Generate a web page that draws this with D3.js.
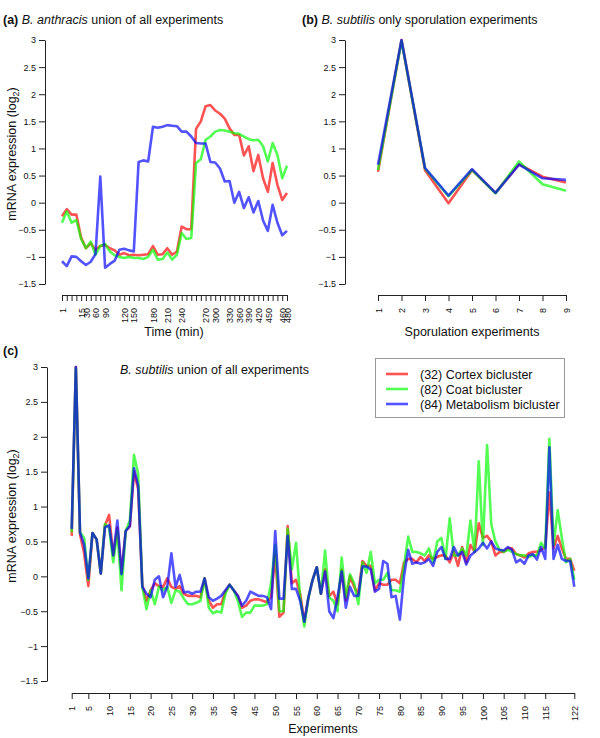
<!DOCTYPE html>
<html><head><meta charset="utf-8">
<script src="https://cdn.jsdelivr.net/npm/d3@7"></script>
<style>
body{margin:0;background:#fff}
svg{display:block}
text{font-family:"Liberation Sans",Arial,Helvetica,sans-serif;fill:#111}
</style>
</head><body>
<svg id="chart" width="600" height="738"></svg>
<script>
// ---------- data ----------
const seriesNames = ["(32) Cortex bicluster", "(82) Coat bicluster", "(84) Metabolism bicluster"];
const seriesColors = ["rgba(255,0,0,0.68)", "rgba(0,255,0,0.68)", "rgba(0,0,255,0.68)"];
const yTickValues = [-1.5, -1, -0.5, 0, 0.5, 1, 1.5, 2, 2.5, 3];

// (a) B. anthracis time course tick labels (one per time point)
const timeLabels = ["1","","","","15","30","","60","","90","","","","120","","150","","","","180","","","210","","","240","","","","","270","","300","","","330","","360","","390","","420","","450","","","460","480"];
const anthracisCortex = [-0.25,-0.12,-0.22,-0.22,-0.65,-0.84,-0.75,-0.87,-0.8,-0.78,-0.84,-0.88,-0.96,-0.93,-0.97,-0.96,-0.97,-0.96,-0.95,-0.8,-0.96,-0.95,-0.84,-0.96,-0.9,-0.44,-0.49,-0.49,1.36,1.5,1.78,1.8,1.7,1.64,1.55,1.37,1.25,1.25,0.87,1.04,0.58,0.88,0.45,0.2,0.73,0.33,0.05,0.18];
const anthracisCoat = [-0.37,-0.16,-0.37,-0.32,-0.67,-0.84,-0.72,-0.96,-0.8,-0.76,-0.9,-0.97,-1.0,-1.02,-1.0,-1.02,-1.02,-1.04,-1.0,-0.87,-1.05,-1.04,-0.92,-1.05,-0.96,-0.56,-0.67,-0.65,0.73,0.8,1.16,1.22,1.31,1.34,1.33,1.31,1.28,1.27,1.22,1.17,1.15,1.16,1.04,0.76,1.1,0.88,0.45,0.68];
const anthracisMetabolism = [-1.08,-1.17,-0.99,-1.0,-1.08,-1.15,-1.09,-0.95,0.48,-1.2,-1.13,-1.07,-0.87,-0.85,-0.88,-0.9,0.75,0.78,0.76,1.4,1.38,1.4,1.43,1.42,1.41,1.31,1.31,1.22,1.1,1.09,1.09,0.75,0.74,0.63,0.39,0.4,0.0,0.2,-0.1,0.1,-0.18,0.03,-0.33,-0.52,-0.04,-0.37,-0.6,-0.52];

// (b) B. subtilis sporulation experiments
const sporulationExperiments = [1,2,3,4,5,6,7,8,9];
const sporCortex = [0.57,3.0,0.6,-0.01,0.6,0.18,0.71,0.48,0.37];
const sporCoat = [0.6,2.98,0.63,0.12,0.6,0.17,0.76,0.34,0.22];
const sporMetabolism = [0.7,3.0,0.64,0.13,0.62,0.18,0.7,0.45,0.42];

// (c) B. subtilis union of all experiments (1..122)
const experimentTicks = [1,5,10,15,20,25,30,35,40,45,50,55,60,65,70,75,80,85,90,95,100,105,110,115,122];
const subtilisCortex = [0.58,3.0,0.6,0.33,-0.14,0.62,0.53,0.04,0.73,0.88,0.3,0.7,0.05,0.65,0.72,1.5,1.25,-0.12,-0.35,-0.2,-0.1,-0.14,-0.15,-0.03,-0.15,-0.18,-0.14,-0.25,-0.28,-0.28,-0.28,-0.3,-0.03,-0.35,-0.45,-0.4,-0.4,-0.22,-0.12,-0.2,-0.28,-0.45,-0.42,-0.35,-0.33,-0.33,-0.35,-0.37,-0.3,0.3,-0.58,-0.52,0.72,-0.1,-0.05,-0.25,-0.65,-0.3,-0.05,0.13,-0.25,0.1,-0.28,-0.22,-0.4,0.1,-0.35,0.0,-0.15,-0.25,0.22,0.15,0.15,-0.2,-0.1,-0.12,-0.12,-0.05,-0.05,-0.1,0.2,0.25,0.25,0.2,0.28,0.22,0.3,0.25,0.28,0.3,0.3,0.2,0.35,0.15,0.42,0.2,0.45,0.35,0.76,0.55,0.58,0.5,0.3,0.35,0.35,0.4,0.4,0.32,0.3,0.27,0.33,0.35,0.35,0.38,0.42,1.2,0.4,0.58,0.4,0.25,0.25,0.08];
const subtilisCoat = [0.63,2.98,0.63,0.55,-0.05,0.62,0.53,0.04,0.75,0.7,0.2,0.65,-0.2,0.65,0.8,1.74,1.47,-0.15,-0.47,-0.2,-0.4,-0.15,-0.2,-0.15,-0.38,-0.2,-0.22,-0.32,-0.4,-0.4,-0.38,-0.35,-0.03,-0.45,-0.53,-0.5,-0.52,-0.25,-0.12,-0.2,-0.35,-0.58,-0.52,-0.52,-0.42,-0.42,-0.42,-0.4,-0.1,0.45,-0.5,-0.5,0.68,0.1,0.48,-0.3,-0.72,-0.3,-0.05,0.13,-0.25,0.37,-0.3,-0.35,-0.5,0.27,-0.3,0.03,-0.1,-0.4,0.2,0.05,0.35,-0.1,-0.05,-0.05,0.05,-0.2,-0.2,-0.22,0.15,0.57,0.35,0.35,0.33,0.3,0.4,0.2,0.5,0.55,0.25,0.83,0.3,0.3,0.4,0.3,0.8,0.35,1.65,0.45,1.88,0.75,0.5,0.38,0.35,0.38,0.35,0.32,0.3,0.3,0.28,0.3,0.3,0.48,0.4,1.97,0.45,0.95,0.55,0.2,0.25,-0.05];
const subtilisMetabolism = [0.68,3.0,0.63,0.45,-0.03,0.62,0.53,0.04,0.7,0.73,0.3,0.8,0.03,0.65,0.72,1.55,1.3,-0.15,-0.25,-0.3,-0.05,0.0,-0.3,-0.15,0.33,-0.15,0.02,-0.23,-0.22,-0.25,-0.22,-0.22,-0.03,-0.3,-0.35,-0.32,-0.28,-0.2,-0.12,-0.2,-0.28,-0.42,-0.35,-0.22,-0.25,-0.28,-0.28,-0.3,-0.47,0.65,-0.32,-0.32,0.58,-0.18,-0.18,-0.35,-0.65,-0.3,-0.05,0.13,-0.25,0.07,-0.5,-0.6,-0.3,0.07,-0.45,-0.15,-0.28,-0.28,0.14,0.14,0.1,-0.22,-0.18,0.22,0.18,-0.3,-0.28,-0.62,0.0,0.38,0.18,0.2,0.18,0.2,0.25,0.15,0.35,0.42,0.25,0.25,0.42,0.3,0.35,0.17,0.3,0.35,0.4,0.48,0.4,0.5,0.4,0.38,0.37,0.42,0.38,0.2,0.24,0.18,0.3,0.32,0.24,0.42,0.25,1.85,0.25,0.45,0.25,0.22,0.22,-0.15];

// ---------- drawing ----------
const svg = d3.select("#chart");
const fmt = d => (d < 0 ? "\u2212" + Math.abs(d) : String(d));

function styleAxis(g) {
  g.selectAll("path.domain").attr("stroke", "#222").attr("stroke-width", 1);
  g.selectAll(".tick line").attr("stroke", "#222").attr("stroke-width", 1);
  g.selectAll("text").style("font-family", '"Liberation Sans",Arial,sans-serif').attr("fill", "#111");
}

function yAxis(x0, y, size) {
  const g = svg.append("g").attr("transform", `translate(${x0},0)`)
    .call(d3.axisLeft(y).tickValues(yTickValues).tickFormat(fmt).tickSize(6).tickSizeOuter(0).tickPadding(3));
  g.selectAll("text").style("font-size", size + "px");
  styleAxis(g);
}

function xAxis(y0, x, values, labelFn, size, off) {
  const g = svg.append("g").attr("transform", `translate(0,${y0})`)
    .call(d3.axisBottom(x).tickValues(values).tickFormat(labelFn).tickSize(6).tickSizeOuter(0));
  g.selectAll("text")
    .attr("transform", "rotate(-90)")
    .attr("x", -off).attr("y", 0).attr("dy", "0.35em")
    .style("text-anchor", "end").style("font-size", size + "px");
  styleAxis(g);
}

function drawLines(x, y, xs, seriesList) {
  seriesList.forEach((vals, k) => {
    const line = d3.line().x((d, i) => x(xs[i])).y(d => y(d));
    svg.append("path").datum(vals)
      .attr("fill", "none").attr("stroke", seriesColors[k])
      .attr("stroke-width", 2.6).attr("stroke-linejoin", "round")
      .attr("d", line);
  });
}

function title(xp, yp, bold, italic, rest) {
  const t = svg.append("text").attr("x", xp).attr("y", yp).style("font-size", "12.5px");
  if (bold) t.append("tspan").style("font-weight", "bold").text(bold + " ");
  t.append("tspan").style("font-style", "italic").text(italic);
  t.append("tspan").text(rest);
}

function yTitle(xp, yp) {
  const t = svg.append("text").attr("transform", `translate(${xp},${yp}) rotate(-90)`)
    .style("text-anchor", "middle").style("font-size", "12.5px");
  t.append("tspan").text("mRNA expression (log");
  t.append("tspan").attr("dy", 3).style("font-size", "9px").text("2");
  t.append("tspan").attr("dy", -3).text(")");
}

const fs = 9;

// ----- panel (a)
const ya = d3.scaleLinear().domain([-1.5, 3]).range([284, 40]);
const xa = d3.scaleLinear().domain([0, timeLabels.length - 1]).range([62, 287]);
const idxA = d3.range(timeLabels.length);
drawLines(xa, ya, idxA, [anthracisCortex, anthracisCoat, anthracisMetabolism]);
yAxis(45, ya, fs);
xAxis(295, xa, idxA, i => timeLabels[i], fs, 13);
title(3, 24, "(a)", "B. anthracis", " union of all experiments");
yTitle(16, 154);
svg.append("text").attr("x", 174).attr("y", 336).style("text-anchor", "middle").style("font-size", "12.5px").text("Time (min)");

// ----- panel (b)
const yb = d3.scaleLinear().domain([-1.5, 3]).range([284, 40]);
const xb = d3.scaleLinear().domain([1, 9]).range([378, 566]);
drawLines(xb, yb, sporulationExperiments, [sporCortex, sporCoat, sporMetabolism]);
yAxis(345, yb, fs);
xAxis(295, xb, sporulationExperiments, d => d, fs, 13);
title(302, 24, "(b)", "B. subtilis", " only sporulation experiments");
svg.append("text").attr("x", 472).attr("y", 336).style("text-anchor", "middle").style("font-size", "12.5px").text("Sporulation experiments");

// ----- panel (c)
const yc = d3.scaleLinear().domain([-1.5, 3]).range([681, 367]);
const xc = d3.scaleLinear().domain([1, 122]).range([71.7, 574.3]);
const expIdx = d3.range(1, 123);
drawLines(xc, yc, expIdx, [subtilisCortex, subtilisCoat, subtilisMetabolism]);
yAxis(47, yc, fs);
xAxis(693, xc, experimentTicks, d => d, fs, 13);
svg.append("text").attr("x", 3).attr("y", 355).style("font-size", "12.5px").style("font-weight", "bold").text("(c)");
title(120, 374, null, "B. subtilis", " union of all experiments");
yTitle(16, 516);
svg.append("text").attr("x", 323).attr("y", 733).style("text-anchor", "middle").style("font-size", "12.5px").text("Experiments");

// legend
const lg = svg.append("g");
lg.append("rect").attr("x", 375.5).attr("y", 358.5).attr("width", 189).attr("height", 59)
  .attr("fill", "#fff").attr("stroke", "#999").attr("stroke-width", 1);
seriesNames.forEach((name, k) => {
  const cy = 374 + k * 15;
  lg.append("line").attr("x1", 386).attr("x2", 408).attr("y1", cy).attr("y2", cy)
    .attr("stroke", seriesColors[k]).attr("stroke-width", 2.6);
  lg.append("text").attr("x", 420).attr("y", cy + 4.5).style("font-size", "12.5px").text(name);
});
</script>
</body></html>
